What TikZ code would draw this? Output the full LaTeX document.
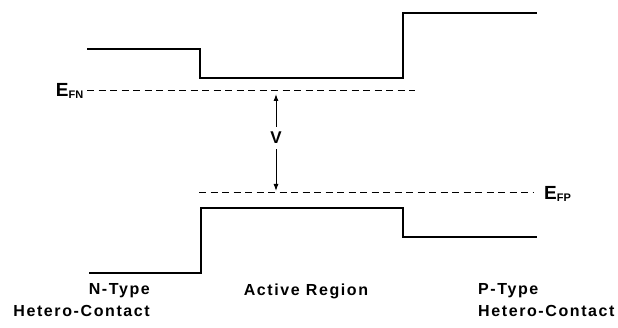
\documentclass[tikz,border=0pt]{standalone}
\usepackage{fontspec}
\setmainfont{Liberation Sans}
\newfontfamily\labfont[LetterSpace=10]{Liberation Sans}
\usetikzlibrary{arrows.meta}
\tikzset{
  band/.style={line width=1.5pt, line join=miter},
  fermi/.style={line width=1pt, dash pattern=on 7pt off 4.5pt},
  lab/.style={font=\labfont\bfseries\fontsize{16}{18}\selectfont, inner sep=0pt},
  elab/.style={font=\bfseries\fontsize{19}{20}\selectfont, inner sep=0pt},
  volttip/.style={line width=1pt, -{Latex[length=7pt,width=5pt]}}
}
\begin{document}
\begin{tikzpicture}[x=1pt, y=-1pt]
\useasboundingbox (0,0) rectangle (618,328);

% conduction band edge
\coordinate (c1) at (87,49);
\coordinate (c2) at (200,49);
\coordinate (c3) at (200,78);
\coordinate (c4) at (403,78);
\coordinate (c5) at (403,13);
\coordinate (c6) at (537,13);
\draw[band] (c1) -- (c2) -- (c3) -- (c4) -- (c5) -- (c6);

% valence band edge
\coordinate (v1) at (89,273);
\coordinate (v2) at (201,273);
\coordinate (v3) at (201,208);
\coordinate (v4) at (403,208);
\coordinate (v5) at (403,237);
\coordinate (v6) at (537,237);
\draw[band] (v1) -- (v2) -- (v3) -- (v4) -- (v5) -- (v6);

% quasi-Fermi levels
\node[elab, anchor=east] (efn) at (84,91) {E\textsubscript{\fontsize{11}{12}\selectfont FN}};
\coordinate (efnend) at (415,91);
\draw[fermi] ([xshift=3pt]efn.east |- efnend) -- (efnend);

\coordinate (efpstart) at (199,193);
\node[elab, anchor=west] (efp) at (544,194) {E\textsubscript{\fontsize{11}{12}\selectfont FP}};
\draw[fermi] (efpstart) -- ([xshift=-10pt]efp.west |- efpstart);

% applied voltage
\node[elab, font=\bfseries\fontsize{17}{18}\selectfont] (v) at (276,138) {V};
\coordinate (vtop) at (276,94);
\coordinate (vbot) at (276,191);
\draw[volttip] ([yshift=5pt]v.north) -- (vtop);
\draw[volttip] ([yshift=-5pt]v.south) -- (vbot);

% region labels
\node[lab, anchor=east] (nt) at (150,291) {N-Type};
\node[lab, anchor=east] (nh) at (150,311) {Hetero-Contact};
\node[lab] (ar) at (306,291) {Active Region};
\node[lab, anchor=west] (pt) at (478,291) {P-Type};
\node[lab, anchor=west] (ph) at (478,311) {Hetero-Contact};
\end{tikzpicture}
\end{document}
